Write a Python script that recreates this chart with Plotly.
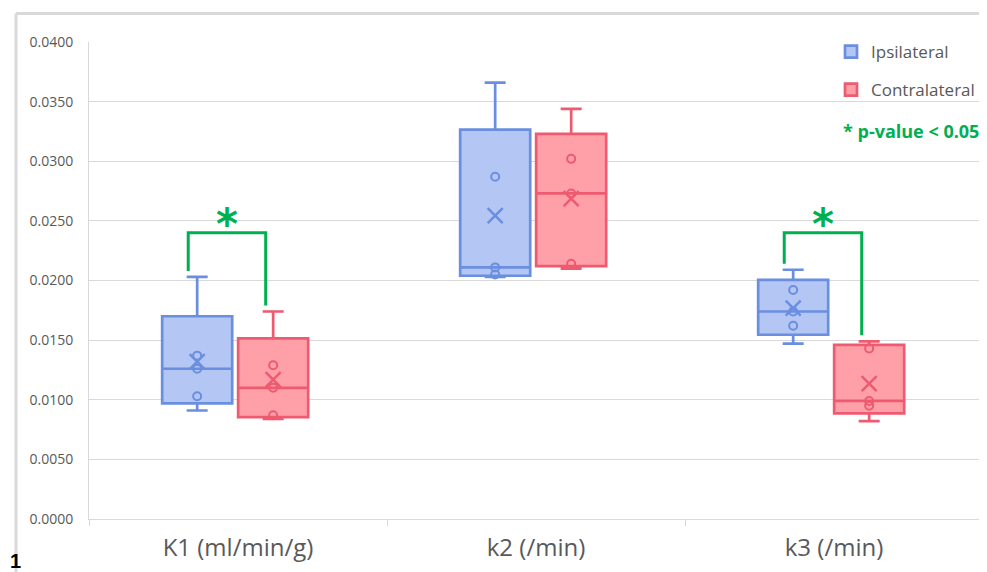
import plotly.graph_objects as go

# ---------------- data ----------------
categories = ["K1 (ml/min/g)", "k2 (/min)", "k3 (/min)"]
ipsi_k1 = [0.0091, 0.0103, 0.0126, 0.0137, 0.0203]
ipsi_k2 = [0.0203, 0.0205, 0.0211, 0.0287, 0.0366]
ipsi_k3 = [0.0147, 0.0162, 0.0174, 0.0192, 0.0209]
contra_k1 = [0.0084, 0.0087, 0.0110, 0.0129, 0.0174]
contra_k2 = [0.0210, 0.0214, 0.0273, 0.0302, 0.0344]
contra_k3 = [0.0082, 0.0095, 0.0099, 0.0143, 0.0149]
significant = [True, False, True]
y_tick_values = [0.0, 0.005, 0.010, 0.015, 0.020, 0.025, 0.030, 0.035, 0.040]

series = [
    ("Ipsilateral", [ipsi_k1, ipsi_k2, ipsi_k3], "#6A8EE0", "#B4C6F4", -0.137),
    ("Contralateral", [contra_k1, contra_k2, contra_k3], "#EE5A70", "#FFA0A9", 0.118),
]

GREEN = "#00B050"
GRID = "#D9D9D9"
TXT = "#595959"
FONT = "Open Sans"

# page body has an 8px margin; work in page pixels and convert
OFF = 8
W, H = 987 - OFF, 572 - OFF
PL, PR, PT, PB = 89, 983, 42, 519  # plot area in page pixels
L, T = PL - OFF, PT - OFF
R = W - (PR - OFF)
B = H - (PB - OFF)
pw, ph = PR - PL, PB - PT


def px_x(p):
    return (p - PL) / pw


def px_y(p):
    return (PB - p) / ph


fig = go.Figure()

for gi, (name, groups, line_c, fill_c, off) in enumerate(series):
    xs, ys = [], []
    for i, vals in enumerate(groups):
        xs += [i + off] * len(vals)
        ys += vals
    fig.add_trace(go.Box(
        x=xs, y=ys, name=name, width=0.235,
        quartilemethod="exclusive", boxpoints=False,
        line=dict(color=line_c, width=2.7), fillcolor=fill_c,
        whiskerwidth=0.3, legendgroup=name,
    ))
    # inner points (excluding whisker extremes)
    px_, py_ = [], []
    mx, my = [], []
    for i, vals in enumerate(groups):
        s = sorted(vals)
        for v in s[1:-1]:
            px_.append(i + off)
            py_.append(v)
        mx.append(i + off)
        my.append(sum(vals) / len(vals))
    fig.add_trace(go.Scatter(
        x=px_, y=py_, mode="markers", showlegend=False, hoverinfo="skip",
        marker=dict(symbol="circle-open", size=8, color=line_c, line=dict(width=2, color=line_c)),
    ))
    fig.add_trace(go.Scatter(
        x=mx, y=my, mode="markers", showlegend=False, hoverinfo="skip",
        marker=dict(symbol="x-thin-open", size=15, color=line_c, line=dict(width=2.5, color=line_c)),
    ))

# significance brackets
shapes = []
annotations = []
for i, sig in enumerate(significant):
    if not sig:
        continue
    xl = i + series[0][4] - 0.03
    xr = i + series[1][4] - 0.025
    yl = max(series[0][1][i]) + 0.0005
    yr = max(series[1][1][i]) + 0.0005
    ytop = 0.0240
    shapes.append(dict(
        type="path", xref="x", yref="y",
        path=f"M {xl} {yl} L {xl} {ytop} L {xr} {ytop} L {xr} {yr}",
        line=dict(color=GREEN, width=3),
    ))
    annotations.append(dict(
        x=(xl + xr) / 2, y=ytop, xref="x", yref="y", text="<b>*</b>",
        showarrow=False, yanchor="bottom", yshift=-18,
        font=dict(family="DejaVu Sans", size=42, color=GREEN),
    ))

# figure border (light gray frame)
shapes.append(dict(type="line", xref="paper", yref="paper",
                   x0=px_x(16), x1=px_x(995), y0=px_y(13.5), y1=px_y(13.5),
                   line=dict(color=GRID, width=3)))
shapes.append(dict(type="line", xref="paper", yref="paper",
                   x0=px_x(16), x1=px_x(16), y0=px_y(13.5), y1=px_y(580),
                   line=dict(color=GRID, width=3)))

annotations.append(dict(
    x=px_x(981), y=px_y(131), xref="paper", yref="paper",
    text="<b>* p-value < 0.05</b>", showarrow=False,
    xanchor="right", yanchor="middle",
    font=dict(family=FONT, size=18, color=GREEN),
))
annotations.append(dict(
    x=px_x(8), y=px_y(561), xref="paper", yref="paper",
    text="<b>1</b>", showarrow=False, xanchor="left", yanchor="middle",
    font=dict(family="Liberation Sans", size=20, color="black"),
))

fig.update_layout(
    width=W, height=H,
    margin=dict(l=L, r=R, t=T, b=B),
    paper_bgcolor="white", plot_bgcolor="white",
    boxmode="overlay",
    font=dict(family=FONT, color=TXT),
    showlegend=True,
    legend=dict(
        x=px_x(831), y=px_y(34), xanchor="left", yanchor="top",
        font=dict(family=FONT, size=17, color=TXT),
        tracegroupgap=13, bgcolor="rgba(0,0,0,0)",
    ),
    shapes=shapes,
    annotations=annotations,
)

fig.update_xaxes(
    range=[-0.5, 2.5], tickmode="array", tickvals=[0, 1, 2], ticktext=categories,
    showgrid=False, zeroline=False, showline=True, linecolor=GRID, linewidth=1,
    ticks="", tickfont=dict(family=FONT, size=24, color=TXT), ticklabelstandoff=7,
    minor=dict(tick0=-0.5, dtick=1, ticks="outside", ticklen=6, tickcolor=GRID, showgrid=False),
)
fig.update_yaxes(
    range=[0, 0.04], tickmode="array", tickvals=y_tick_values, tickformat=".4f",
    showgrid=True, gridcolor=GRID, gridwidth=1, zeroline=False,
    showline=True, linecolor=GRID, linewidth=1, ticks="",
    tickfont=dict(family=FONT, size=14, color=TXT), ticklabelstandoff=12,
)

fig.write_html("out.html")
